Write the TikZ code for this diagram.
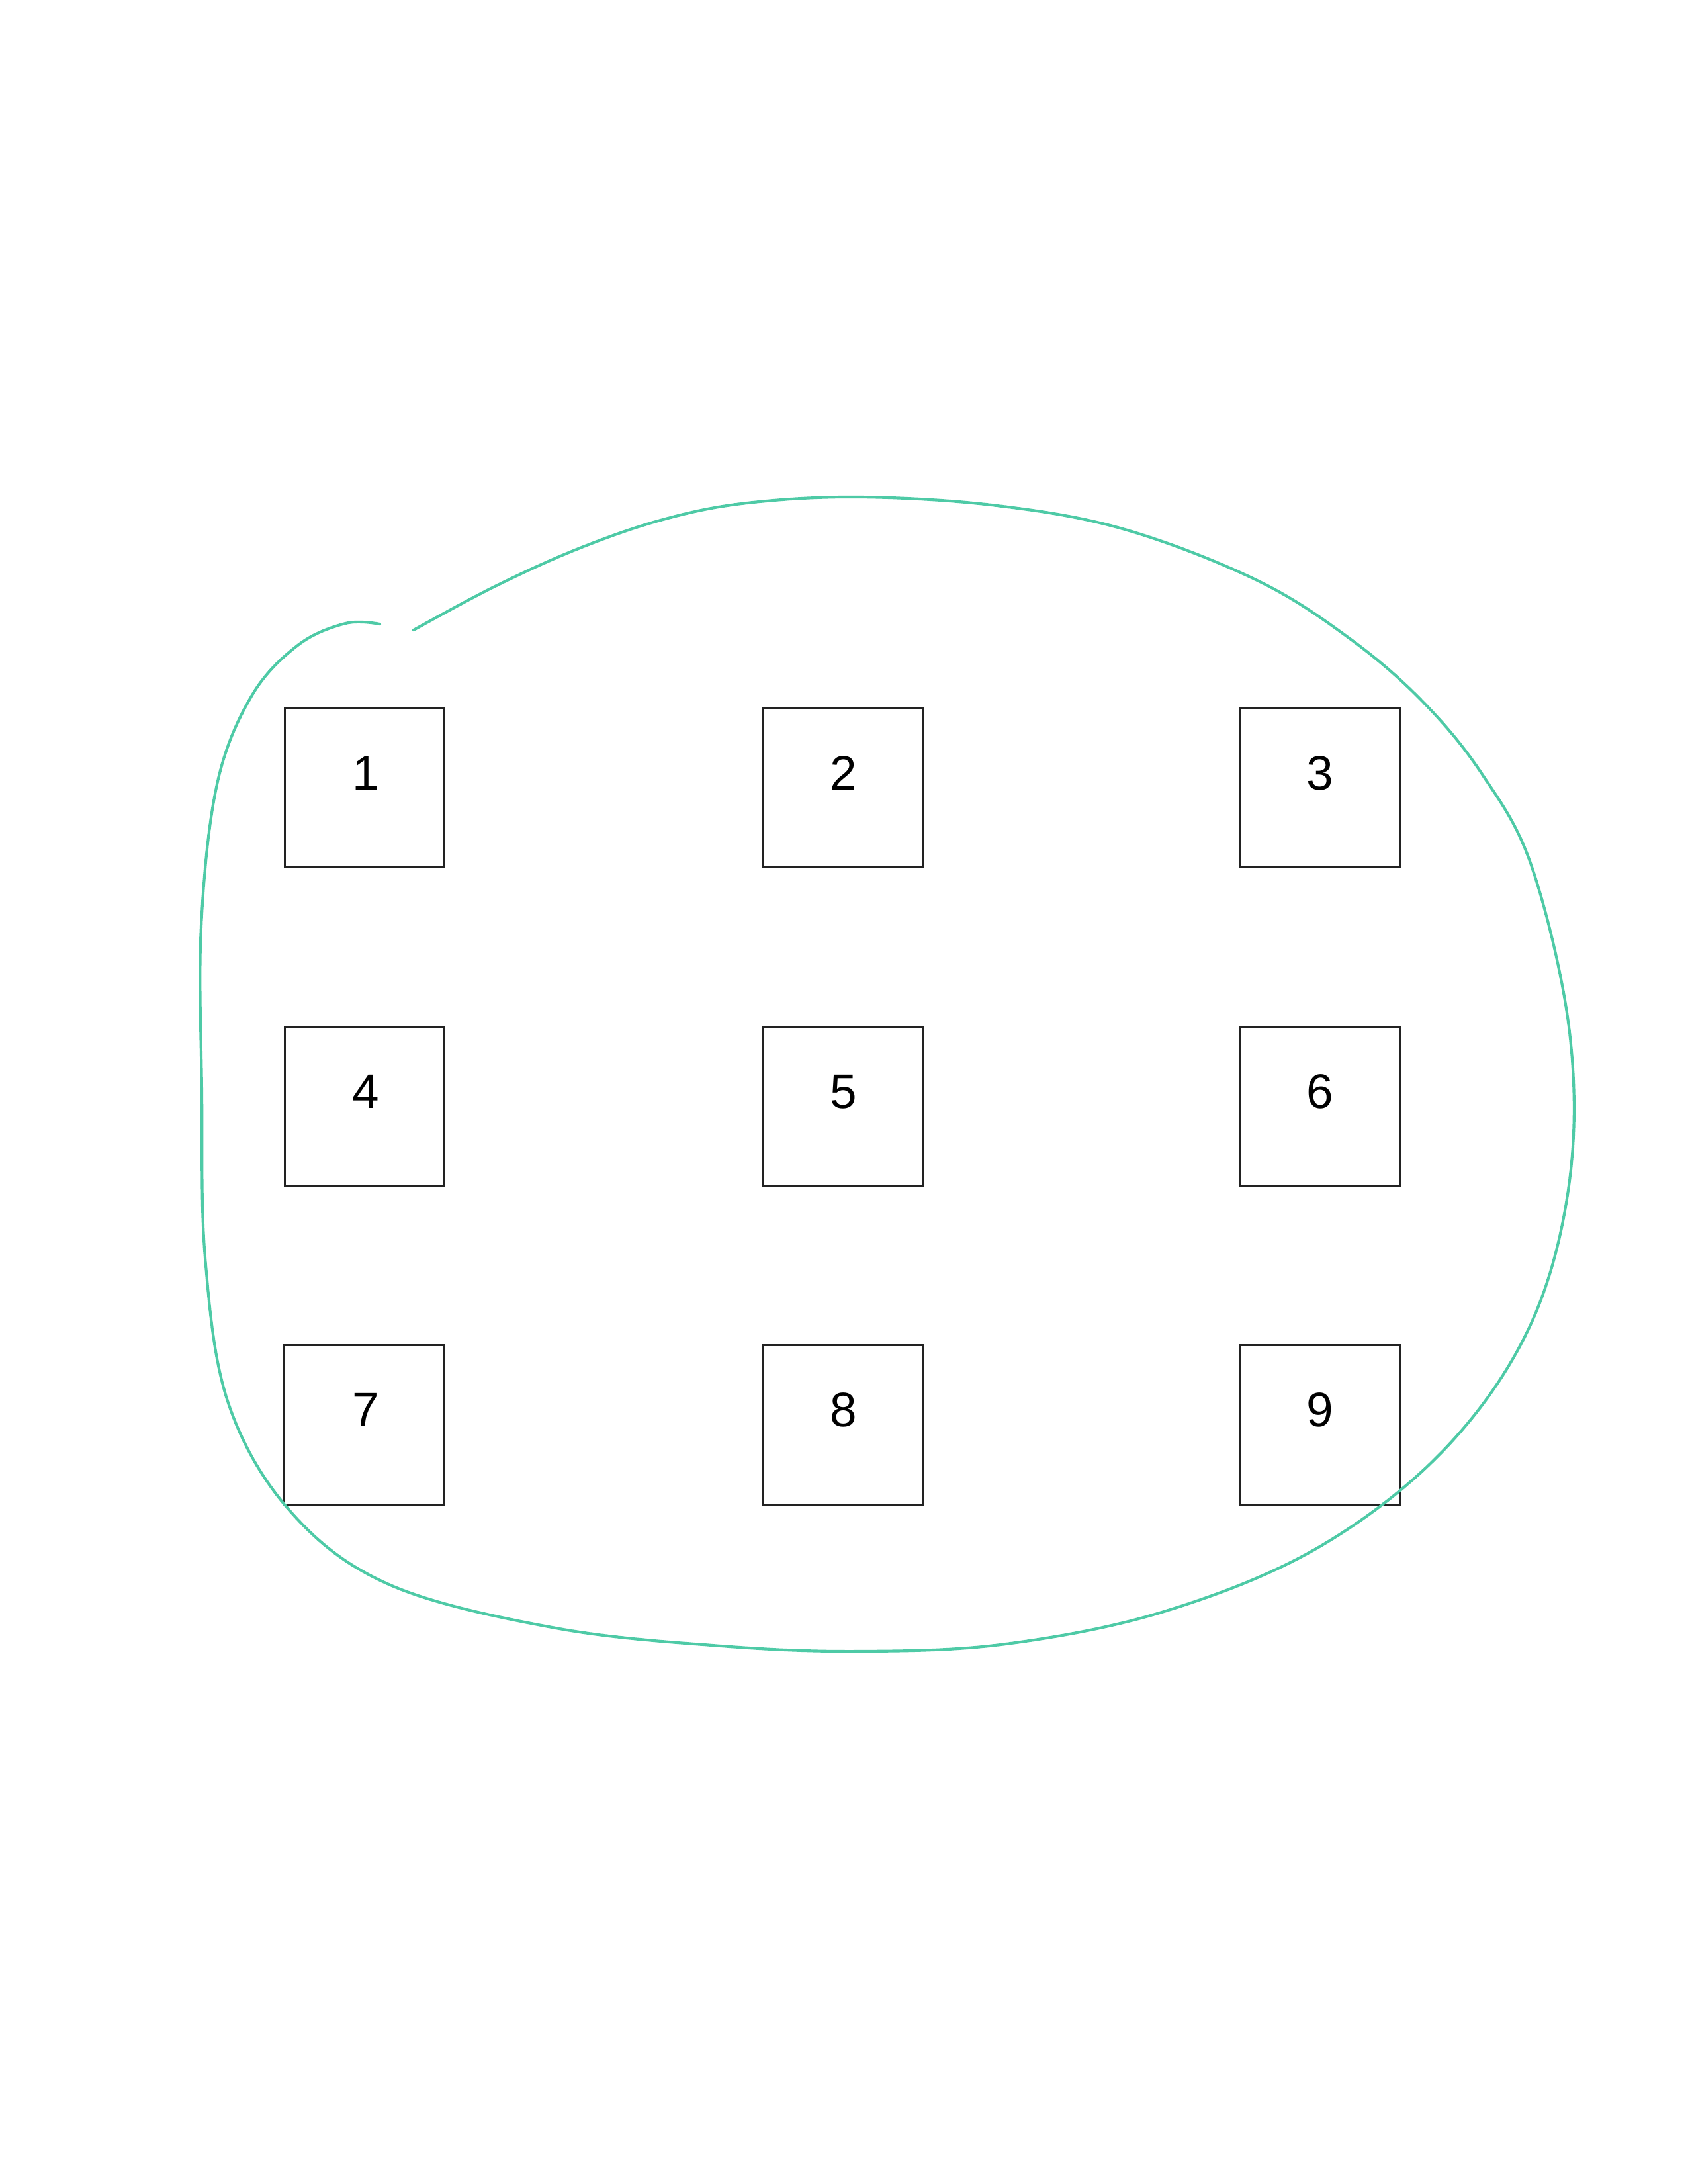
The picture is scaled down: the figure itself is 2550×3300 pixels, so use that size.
\documentclass[tikz,border=0pt]{standalone}
\usepackage{fontspec}
\setmainfont{Liberation Sans}
\definecolor{loopgreen}{RGB}{78,202,166}
\definecolor{boxline}{RGB}{34,34,34}
\begin{document}
\begin{tikzpicture}[x=0.24pt,y=-0.24pt,
  box/.style={draw=boxline,line width=0.75pt,minimum width=57.8pt,minimum height=57.8pt,inner sep=0pt},
  lbl/.style={anchor=base,font=\fontsize{17.5}{20}\selectfont,inner sep=0pt,text=black},
  loop/.style={draw=loopgreen,line width=1pt,line cap=round,line join=round}]
\useasboundingbox[fill=white] (0,0) rectangle (2550,3300);
% boxes
\node[box] (b1) at (551,1190) {};
\node[box] (b2) at (1274,1190) {};
\node[box] (b3) at (1995,1190) {};
\node[box] (b4) at (551,1672) {};
\node[box] (b5) at (1274,1672) {};
\node[box] (b6) at (1995,1672) {};
\node[box] (b7) at (550,2153) {};
\node[box] (b8) at (1274,2153) {};
\node[box] (b9) at (1995,2153) {};
% labels
\node[lbl] (t1) at (553,1193) {1};
\node[lbl] (t2) at (1275,1193) {2};
\node[lbl] (t3) at (1995,1193) {3};
\node[lbl] (t4) at (553,1674) {4};
\node[lbl] (t5) at (1275,1674) {5};
\node[lbl] (t6) at (1995,1674) {6};
\node[lbl] (t7) at (553,2155) {7};
\node[lbl] (t8) at (1275,2155) {8};
\node[lbl] (t9) at (1995,2155) {9};
% green loop
\draw[loop] plot[smooth,tension=0.6] coordinates {
 (574,943) (522,942) (450,975) (380,1052) (328,1185) (304,1400)
 (305,1650) (310,1900) (345,2120) (440,2285) (590,2395) (840,2460)
 (1090,2487) (1300,2495) (1520,2484) (1759,2435) (1989,2340) (2180,2193)
 (2310,2008) (2371,1791) (2372,1560) (2315,1310) (2240,1170) (2150,1060)
 (2040,965) (1900,877) (1700,800) (1507,764) (1300,751) (1129,760) (1002,785)
 (874,829) (746,887) (625,952)};
\end{tikzpicture}
\end{document}
